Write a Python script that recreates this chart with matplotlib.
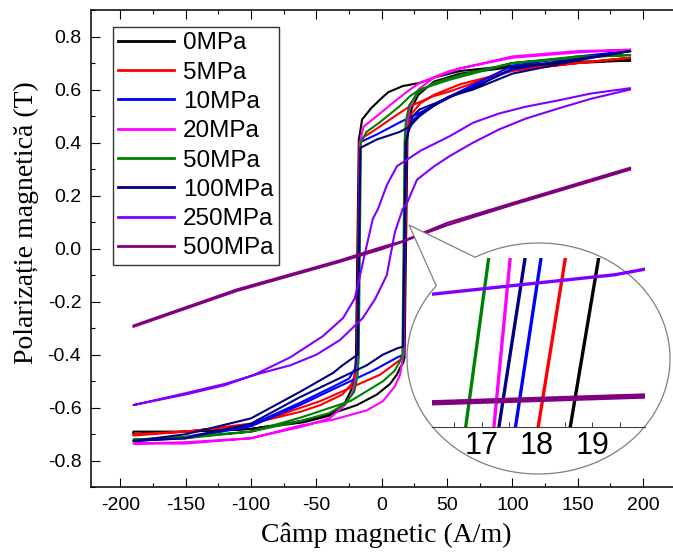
import numpy as np
import matplotlib
matplotlib.use('Agg')
import matplotlib.pyplot as plt
from matplotlib.patches import Polygon
from matplotlib.ticker import MultipleLocator, FormatStrFormatter

plt.rcParams['font.family'] = 'Liberation Sans'
plt.rcParams['axes.unicode_minus'] = False

W, H = 673, 557

labels = ['0MPa', '5MPa', '10MPa', '20MPa', '50MPa', '100MPa', '250MPa', '500MPa']
colors = ['#000000', '#ff0000', '#0000ff', '#ff00ff', '#008000', '#000080', '#8000ff', '#800080']

# descending branch (from +H to -H), then ascending branch (from -H to +H)
h_desc = [
    [190, 150, 100, 60, 40, 29, 16, 5, -1.3, -8, -15, -17.5, -18.6, -19.7, -20.5, -23, -28, -40, -60, -100, -150, -190],
    [190, 150, 100, 52, 39, 21.6, 8.7, -6.6, -14, -17, -18.02, -19.1, -20, -23, -30, -47, -62, -100, -150, -190],
    [190, 150, 100, 52, 34.4, 13.7, -3.6, -15, -16.6, -17.61, -18.6, -20, -25, -37, -62, -100, -150, -190],
    [190, 150, 100, 52, 29, 21.6, 8.6, -3.7, -14, -16.6, -17.22, -17.85, -19, -22, -28, -40, -60, -100, -150, -190],
    [190, 150, 100, 52, 29, 21.4, 13.7, -1.6, -11.7, -15.9, -16.71, -17.6, -18.5, -21, -28, -40, -62, -100, -150, -190],
    [190, 150, 100, 70, 52, 44.5, 29, 21.3, 13.7, -3.6, -16.3, -17.31, -18.3, -22, -30, -37, -62.5, -100, -150, -190],
    [190, 160, 136, 110, 90, 70, 52, 30, 11.7, 4, -2.8, -6.8, -12, -20.5, -29.6, -45, -70, -98, -120, -150, -190],
    [190, 100, 50, 19.9, 16.1, 0, -32, -111, -190],
]
m_desc = [
    [0.71, 0.705, 0.69, 0.67, 0.645, 0.625, 0.613, 0.59, 0.562, 0.53, 0.487, 0.41, 0.0, -0.41, -0.47, -0.53, -0.58, -0.63, -0.655, -0.68, -0.69, -0.69],
    [0.72, 0.70, 0.675, 0.593, 0.574, 0.537, 0.495, 0.443, 0.42, 0.40, 0.0, -0.42, -0.47, -0.51, -0.55, -0.59, -0.615, -0.66, -0.69, -0.70],
    [0.745, 0.725, 0.69, 0.574, 0.525, 0.476, 0.431, 0.405, 0.40, 0.0, -0.41, -0.45, -0.49, -0.52, -0.58, -0.665, -0.71, -0.725],
    [0.75, 0.745, 0.725, 0.67, 0.625, 0.60, 0.55, 0.50, 0.46, 0.40, 0.0, -0.41, -0.47, -0.54, -0.59, -0.64, -0.67, -0.715, -0.73, -0.735],
    [0.73, 0.725, 0.70, 0.637, 0.60, 0.574, 0.537, 0.476, 0.44, 0.40, 0.0, -0.41, -0.48, -0.54, -0.585, -0.62, -0.65, -0.69, -0.71, -0.72],
    [0.745, 0.715, 0.68, 0.605, 0.574, 0.555, 0.50, 0.46, 0.44, 0.412, 0.38, 0.0, -0.40, -0.412, -0.44, -0.468, -0.54, -0.64, -0.70, -0.725],
    [0.605, 0.585, 0.56, 0.535, 0.51, 0.475, 0.424, 0.37, 0.311, 0.24, 0.15, 0.112, 0.0, -0.187, -0.262, -0.33, -0.41, -0.477, -0.51, -0.545, -0.59],
    [0.305, 0.172, 0.097, 0.0358, 0.0282, 0.006, -0.044, -0.154, -0.29],
]
h_asc = [
    [-190, -150, -100, -62, -37, -19, -3.6, 6.4, 11.5, 14, 16.5, 17.5, 18.6, 19.7, 20.5, 23, 28, 40, 60, 100, 150, 190],
    [-190, -150, -100, -62, -47, -19, -1.4, 14, 17, 18.02, 19.1, 20, 23, 30, 40, 60, 100, 150, 190],
    [-190, -150, -100, -62.5, -37, -6.6, 12, 16.6, 17.61, 18.6, 20, 25, 34.4, 52, 70, 100, 150, 190],
    [-190, -150, -100, -62, -37, -11.5, 1, 10, 14, 16.6, 17.22, 17.85, 19, 22, 28, 40, 60, 100, 150, 190],
    [-190, -150, -100, -62, -24, 1, 10, 14, 15.85, 16.71, 17.6, 18.5, 21, 28, 40, 60, 100, 150, 190],
    [-190, -150, -100, -62.5, -37, -11.5, 0.8, 12.3, 16.3, 17.31, 18.3, 20, 21.3, 23.8, 29, 44.5, 52, 70, 100, 150, 190],
    [-190, -150, -120, -98, -70, -50, -32, -14.5, -5, 3.9, 10, 16.1, 19.4, 27, 40, 52, 70, 90, 110, 136, 160, 190],
    [-190, -111, -32, 0, 16.1, 19.9, 50, 100, 190],
]
m_asc = [
    [-0.70, -0.69, -0.68, -0.65, -0.62, -0.59, -0.55, -0.51, -0.476, -0.45, -0.43, -0.41, 0.0, 0.41, 0.47, 0.53, 0.58, 0.63, 0.66, 0.685, 0.70, 0.71],
    [-0.705, -0.69, -0.665, -0.60, -0.575, -0.514, -0.476, -0.42, -0.40, 0.0, 0.42, 0.46, 0.51, 0.55, 0.58, 0.62, 0.67, 0.70, 0.72],
    [-0.725, -0.715, -0.67, -0.59, -0.53, -0.46, -0.41, -0.40, 0.0, 0.41, 0.44, 0.49, 0.525, 0.57, 0.61, 0.675, 0.72, 0.745],
    [-0.735, -0.735, -0.715, -0.667, -0.645, -0.61, -0.575, -0.52, -0.476, -0.40, 0.0, 0.41, 0.47, 0.54, 0.60, 0.645, 0.68, 0.72, 0.74, 0.75],
    [-0.72, -0.715, -0.69, -0.637, -0.575, -0.50, -0.46, -0.425, -0.40, 0.0, 0.41, 0.48, 0.54, 0.59, 0.625, 0.655, 0.70, 0.72, 0.73],
    [-0.725, -0.715, -0.66, -0.56, -0.50, -0.44, -0.40, -0.375, -0.37, 0.0, 0.40, 0.43, 0.46, 0.50, 0.525, 0.555, 0.574, 0.60, 0.66, 0.71, 0.745],
    [-0.59, -0.55, -0.515, -0.477, -0.44, -0.40, -0.345, -0.262, -0.19, -0.10, 0.06, 0.150, 0.172, 0.26, 0.31, 0.349, 0.40, 0.45, 0.49, 0.53, 0.565, 0.60],
    [-0.295, -0.16, -0.05, -0.002, 0.0259, 0.0335, 0.088, 0.165, 0.298],
]

fig = plt.figure(figsize=(W / 100, H / 100), dpi=100)
ax = fig.add_axes([91 / W, 1 - 487.3 / H, 591.3 / W, 477.3 / H])

for i in range(len(labels)):
    hh = h_desc[i] + h_asc[i]
    mm = m_desc[i] + m_asc[i]
    ax.plot(hh, mm, color=colors[i], lw=1.5, label=labels[i])

ax.set_xlim(-222.4, 230)
ax.set_ylim(-0.9, 0.9)
ax.xaxis.set_major_locator(MultipleLocator(50))
ax.xaxis.set_minor_locator(MultipleLocator(25))
ax.yaxis.set_major_locator(MultipleLocator(0.2))
ax.yaxis.set_minor_locator(MultipleLocator(0.1))
ax.yaxis.set_major_formatter(FormatStrFormatter('%.1f'))
ax.tick_params(which='both', direction='in', top=True, right=False, width=0.8, labelsize=14, pad=7)
ax.tick_params(which='major', length=6.5)
ax.tick_params(which='minor', length=3.2)
ax.spines['right'].set_visible(False)
for s in ['left', 'bottom', 'top']:
    ax.spines[s].set_linewidth(1.1)

ax.set_xlabel('Câmp magnetic (A/m)', fontfamily='Liberation Serif', fontsize=20, labelpad=6)
ax.set_ylabel('Polarizație magnetică (T)', fontfamily='Liberation Serif', fontsize=20)
ax.yaxis.set_label_coords(-0.088, 0.554)

leg = ax.legend(loc='upper left', bbox_to_anchor=(113 / W, 1 - 27 / H), bbox_transform=fig.transFigure,
                fontsize=17.5, frameon=True, fancybox=False, edgecolor='black', borderaxespad=0,
                handlelength=2.3, handletextpad=0.35, labelspacing=0.3, borderpad=0.22)
leg.get_frame().set_linewidth(1.0)
for ln in leg.get_lines():
    ln.set_linewidth(2)

# callout bubble (ellipse + pointer), in figure pixels
cx, cy, a, b = 538.5, 358.5, 131.5, 115.5
t = np.radians(np.linspace(141, 478.8, 200))
px = cx + a * np.cos(t)
py = cy - b * np.sin(t)
px = np.append(px, 409)
py = np.append(py, 225)
bubble = Polygon(np.column_stack([px / W, 1 - py / H]), closed=True, transform=fig.transFigure,
                 facecolor='white', edgecolor='#7f7f7f', lw=0.9, zorder=1)
fig.patches.append(bubble)

# zoomed view
ax_in = fig.add_axes([432 / W, 1 - 426.7 / H, 213 / W, 168.7 / H])
ax_in.set_zorder(2)
ax_in.patch.set_alpha(0)
for i in range(len(labels)):
    ax_in.plot(h_desc[i] + h_asc[i], m_desc[i] + m_asc[i], color=colors[i], lw=2.4)
ax_in.set_xlim(16.1, 19.95)
ax_in.set_ylim(0, 0.191)
for s in ['left', 'right', 'top']:
    ax_in.spines[s].set_visible(False)
ax_in.spines['bottom'].set_color('#404040')
ax_in.spines['bottom'].set_linewidth(0.8)
ax_in.set_yticks([])
ax_in.xaxis.set_major_locator(MultipleLocator(1))
ax_in.xaxis.set_minor_locator(MultipleLocator(0.5))
ax_in.tick_params(axis='x', which='both', direction='in', length=3.5, width=0.7, colors='#404040',
                  labelcolor='black', labelsize=22, pad=3)

fig.savefig('out.png', dpi=100)
